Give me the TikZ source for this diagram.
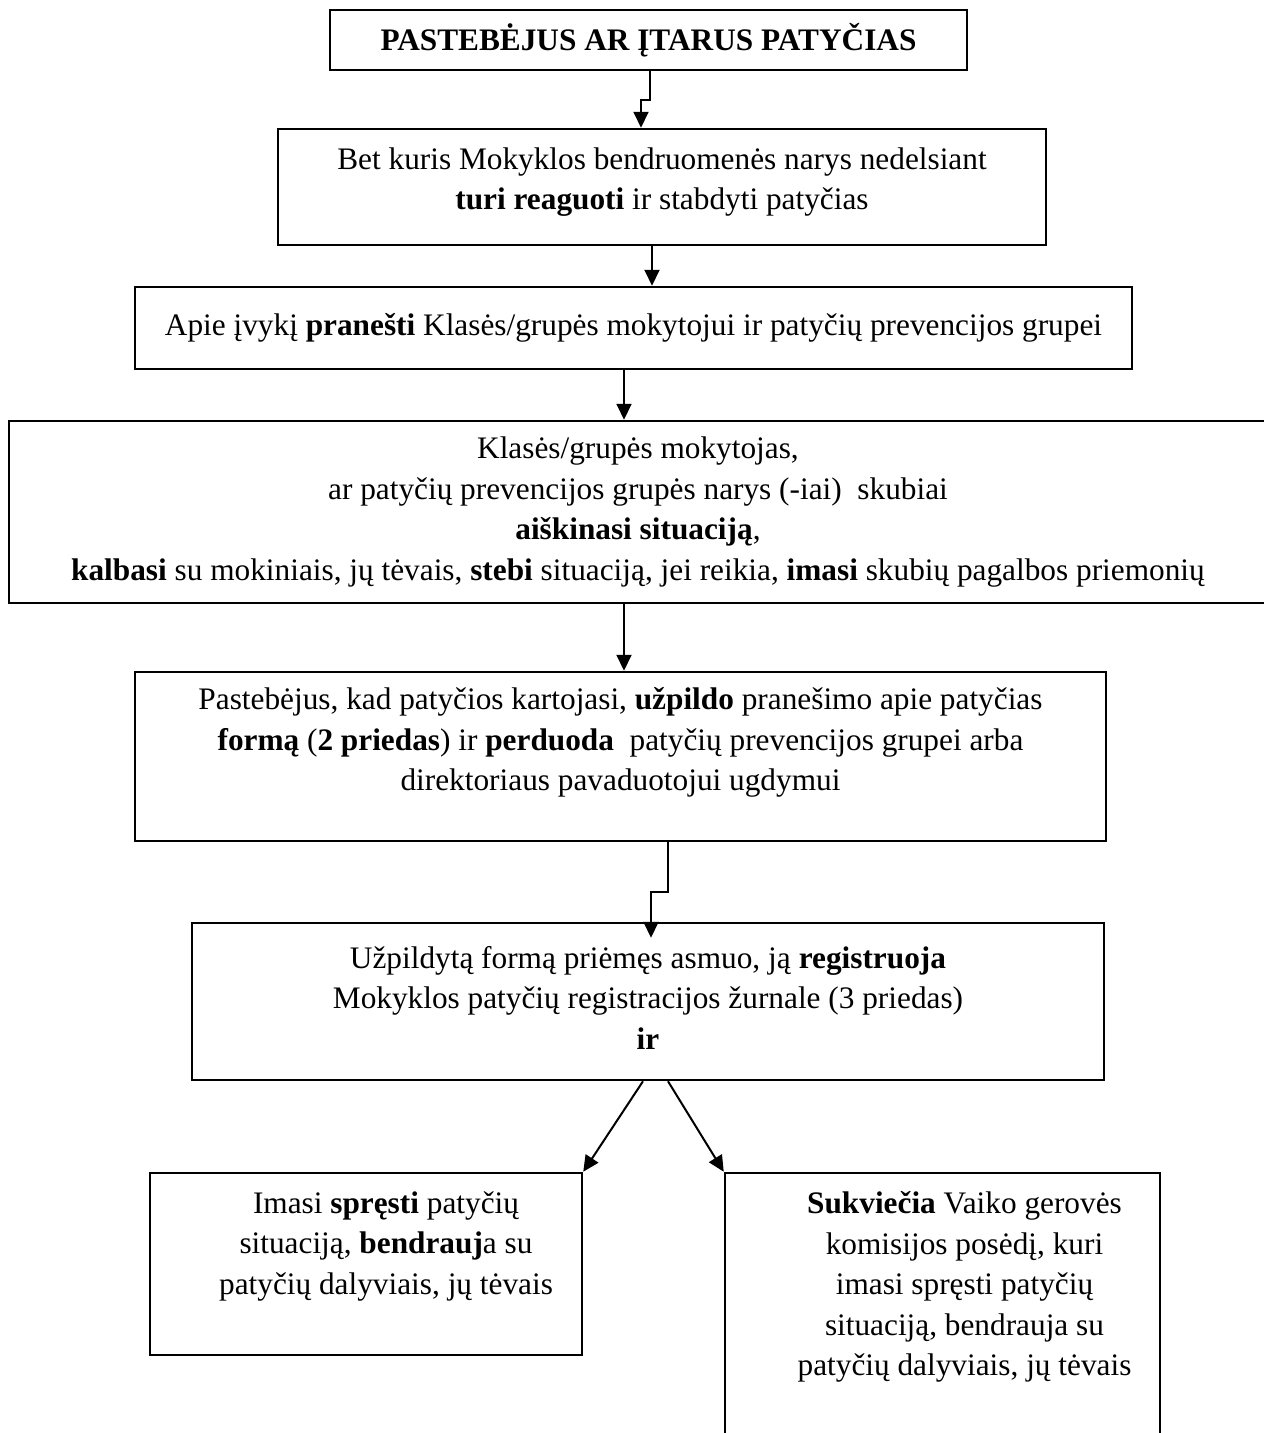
\documentclass[tikz,border=0pt]{standalone}
\usepackage{fontspec}
\setmainfont{Liberation Serif}
\usetikzlibrary{arrows.meta,positioning}

\begin{document}
\begin{tikzpicture}[x=1pt, y=-1pt, >={Triangle[length=16pt,width=15pt]},
    box/.style={draw, line width=2.5pt, align=center, inner sep=0pt, font=\fontsize{31.3}{40.5}\selectfont},
    txt/.style={align=center, inner sep=0pt, font=\fontsize{31.3}{40.5}\selectfont},
    link/.style={line width=2pt}]
    \useasboundingbox (0,0) rectangle (1264,1433);
    \clip (0,0) rectangle (1264,1433);

    \node[box, minimum width=637pt, minimum height=60pt] (alarm) at (648.5,40) {\textbf{PASTEBĖJUS AR ĮTARUS PATYČIAS}};
    \node[box, minimum width=768pt, minimum height=116pt, label={[txt, yshift=5pt]center:{Bet kuris Mokyklos bendruomenės narys nedelsiant\\
         \textbf{turi reaguoti} ir stabdyti patyčias}}] (react) at (662,187) {};
    \node[box, minimum width=997pt, minimum height=82pt] (report) at (633.5,328)
        {Apie įvykį \textbf{pranešti} Klasės/grupės mokytojui ir patyčių prevencijos grupei};
    \node[box, minimum width=1258pt, minimum height=182pt] (clarify) at (638,512)
        {Klasės/grupės mokytojas,\\ ar patyčių prevencijos grupės narys (-iai)~~skubiai\\
         \textbf{aiškinasi situaciją},\\
         \textbf{kalbasi} su mokiniais, jų tėvais, \textbf{stebi} situaciją, jei reikia, \textbf{imasi} skubių pagalbos priemonių};
    \node[box, minimum width=971pt, minimum height=169pt, label={[txt, yshift=14pt]center:{Pastebėjus, kad patyčios kartojasi, \textbf{užpildo} pranešimo apie patyčias\\
         \textbf{formą} (\textbf{2 priedas}) ir \textbf{perduoda}~~patyčių prevencijos grupei arba\\
         direktoriaus pavaduotojui ugdymui}}] (form) at (620.5,756.5) {};
    \node[box, minimum width=912pt, minimum height=157pt, label={[txt, yshift=4pt]center:{Užpildytą formą priėmęs asmuo, ją \textbf{registruoja}\\
         Mokyklos patyčių registracijos žurnale (3 priedas)\\ \textbf{ir}}}] (register) at (648,1001.5) {};
    \node[box, minimum width=432pt, minimum height=182pt, label={[txt, xshift=20pt, yshift=18pt]center:{Imasi \textbf{spręsti} patyčių\\
         situaciją, \textbf{bendrauj}a su\\ patyčių dalyviais, jų tėvais}}] (solve) at (366,1264) {};
    \node[box, minimum width=435pt, minimum height=280pt, label={[txt, xshift=22pt, yshift=26pt]center:{\textbf{Sukviečia} Vaiko gerovės\\
         komisijos posėdį, kuri\\ imasi spręsti patyčių\\ situaciją, bendrauja su\\ patyčių dalyviais, jų tėvais}}] (commission) at (942.5,1313) {};

    % jungtys
    \draw[link, ->] ([xshift=1.5pt]alarm.south) -- ++(0,29) -| ([xshift=-21pt]react.north);
    \draw[link, ->] ([xshift=-10pt]react.south) -- ([xshift=-10pt]react.south |- report.north);
    \draw[link, ->] ([xshift=-9.5pt]report.south) -- ([xshift=-9.5pt]report.south |- clarify.north);
    \draw[link, ->] ([xshift=-14pt]clarify.south) -- ([xshift=-14pt]clarify.south |- form.north);
    \draw[link, ->] ([xshift=47.5pt]form.south) -- ++(0,50) -| ([xshift=3pt, yshift=-16pt]register.north);
    \draw[link, ->] ([xshift=-5pt]register.south) -- (solve.north east);
    \draw[link, ->] ([xshift=20pt]register.south) -- (commission.north west);
\end{tikzpicture}
\end{document}
